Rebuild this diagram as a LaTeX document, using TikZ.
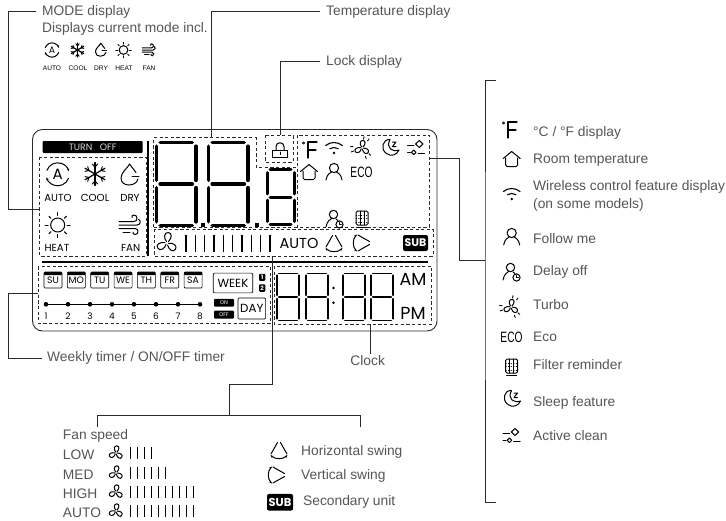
\documentclass[tikz,border=0pt]{standalone}
\usepackage{fontspec}
\setmainfont{Liberation Sans}
\newfontfamily\lcdfont{Poppins}
\usetikzlibrary{arrows.meta}
\usetikzlibrary{calc}

\definecolor{labelgray}{HTML}{555555}
\definecolor{linegray}{HTML}{2A2A2A}

\tikzset{
	leader/.style={draw=linegray, line width=0.8pt},
	dashbox/.style={draw=linegray, dashed, dash pattern=on 3.2pt off 2.4pt, line width=0.7pt},
	caption/.style={text=labelgray, font=\fontsize{13.8}{15}\selectfont, anchor=west, inner sep=0pt},
	lcdtext/.style={font=\lcdfont\fontsize{#1}{#1}\selectfont, inner sep=0pt},
	daybox/.style={draw=black, rounded corners=1pt, line width=0.6pt, minimum width=18pt, minimum height=16pt, inner sep=0pt, font=\lcdfont\fontsize{9.3}{9}\selectfont},
	subbox/.style={fill=black, text=white, rounded corners=2pt, inner sep=0pt, minimum width=25pt, minimum height=16pt, font=\lcdfont\bfseries\fontsize{11}{11}\selectfont},
	blackbox/.style={fill=black, text=white, rounded corners=1pt, inner sep=0pt},
	icon/.style={line width=1pt, line cap=round, line join=round},
	autoicon/.pic={
		\draw[icon, -{Stealth[length=3pt]}] (200:11.5) arc (200:345:11.5);
		\draw[icon, -{Stealth[length=3pt]}] (20:11.5) arc (20:165:11.5);
		\node[transform shape, font=\lcdfont\fontsize{15}{15}\selectfont, inner sep=0pt] (autoA) at (0,0) {A};
	},
	coolicon/.pic={
		\foreach \a in {30,90,150,210,270,330}{
			\draw[icon, line width=1.2pt] (0,0) -- (\a:11.5);
			\draw[icon] (\a:7) -- +(\a+42:4);
			\draw[icon] (\a:7) -- +(\a-42:4);
		}
	},
	dryicon/.pic={
		\draw[icon] (6,-2.5) -- (-0.5,-11) .. controls (-2,-7) and (-9,-3) .. (-9,3) .. controls (-9,8) and (-5,10) .. (-1,10) .. controls (3,10) and (7,8) .. (8,4);
		\draw[icon] (2,1.5) -- (9,1.5);
	},
	heaticon/.pic={
		\draw[icon] (0,0) circle (7);
		\foreach \a in {0,45,...,315}
			\draw[icon] (\a:9.5) -- (\a:12.5);
	},
	windicon/.pic={
		\draw[icon] (-11,-3.5) -- (4,-3.5) .. controls (8,-3.5) and (8,-10) .. (4,-10) .. controls (2,-10) and (1.5,-8.5) .. (2,-7.5);
		\draw[icon] (-11,0) -- (7,0) .. controls (11,0) and (11,-5.5) .. (8.5,-5.5);
		\draw[icon] (-11,3.5) -- (5,3.5) .. controls (9,3.5) and (9,9.5) .. (5,9.5) .. controls (3,9.5) and (2.5,8) .. (3,7);
		\draw[icon] (-7,7) -- (0,7);
	},
	degreeicon/.pic={
		\draw[icon, line width=0.6pt] (-8.5,-7) circle (1.1);
		\draw[icon, line width=1.3pt] (-4,8) -- (-4,-8) -- (5,-8);
		\draw[icon, line width=1.3pt] (-4,0) -- (4,0);
	},
	wifiicon/.pic={
		\draw[icon, line width=1.1pt] (0,7.5) ++(230:13) arc (230:310:13);
		\draw[icon, line width=1.1pt] (0,7.5) ++(238:8) arc (238:302:8);
		\fill (0,5) circle (1.4);
	},
	bladesicon/.pic={
		\foreach \a in {0,125,240}
			\draw[icon, rotate=\a] (-0.5,-1.5) .. controls (-3.5,-5) and (-3,-10.5) .. (1,-10.5) .. controls (5.5,-10.5) and (5,-5) .. (1.5,-1.5);
	},
	turboicon/.pic={
		\pic[scale=0.72] {bladesicon};
		\foreach \a in {40,68,160,188,280,308}
			\draw[icon, line width=0.9pt] (\a:9) -- (\a:11.5);
	},
	moonicon/.pic={
		\draw[icon] (0,-8.5) .. controls (-7.5,-9) and (-10,1) .. (-3.5,5.5) .. controls (1,9) and (7,7) .. (9,2) .. controls (2.5,4.5) and (-4.5,0) .. (0,-8.5);
		\draw[icon] (2.5,-6) -- (6,-6) -- (2.5,-1.5) -- (6,-1.5);
	},
	activeicon/.pic={
		\draw[icon] (3.3,-7.5) -- (7,-4) -- (3.3,-0.5) -- (-0.4,-4) -- cycle;
		\draw[icon] (-2.3,2) -- (0,4.3) -- (-2.3,6.6) -- (-4.6,4.3) -- cycle;
		\draw[icon] (-8.5,-2.3) -- (-2,-2.3);
		\draw[icon] (-8.5,4.5) -- (-5.5,4.5);
		\draw[icon] (2,5.7) -- (8.5,5.7);
	},
	houseicon/.pic={
		\draw[icon] (-8.5,-0.5) -- (0,-7.5) -- (8.5,-0.5);
		\draw[icon, rounded corners=1.5pt] (-6,-1) -- (-6,7.5) -- (6,7.5) -- (6,-1);
	},
	personicon/.pic={
		\draw[icon] (0,-4) circle (4.6);
		\draw[icon] (-8,8) .. controls (-7,2) and (-4,1) .. (-2.5,0);
		\draw[icon] (8,8) .. controls (7,2) and (4,1) .. (2.5,0);
	},
	delayicon/.pic={
		\draw[icon] (-1.5,-4.5) circle (4.2);
		\draw[icon] (-9,8) .. controls (-8,2) and (-5,1) .. (-3.5,-0.5);
		\draw[icon] (1,0) .. controls (2,0.5) and (2.5,1) .. (3,1.5);
		\draw[icon] (4.5,5.5) circle (3.6);
		\draw[icon, line width=0.6pt] (4.5,3.5) -- (4.5,5.5) -- (6.5,5.5);
	},
	ecoicon/.pic={
		\node[font=\fontsize{15}{15}\selectfont, inner sep=0pt, xscale=0.68] (ecotext) at (0,0) {ECO};
	},
	filtericon/.pic={
		\draw[icon, rounded corners=1.5pt] (-6,-8) rectangle (6,6);
		\draw[icon] (-5,8) -- (5,8);
		\foreach \x in {-2,2}
			\draw[icon, line width=0.6pt] (\x,-8) -- (\x,6);
		\foreach \y in {-4,-0.5,3}
			\draw[icon, line width=0.6pt, dotted] (-6,\y) -- (6,\y);
	},
	lockicon/.pic={
		\draw[icon] (-7.5,0) rectangle (7.5,7.5);
		\draw[icon] (-4,0) -- (-4,-3.5) .. controls (-4,-8.5) and (4,-8.5) .. (4,-3.5) -- (4,0);
		\draw[icon] (0,2) -- (0,4.5);
	},
	hswingicon/.pic={
		\draw[icon] (-1.5,-7.5) -- (-8,4);
		\draw[icon] (1.5,-7.5) -- (8,4);
		\draw[icon, {Stealth[length=3pt]}-{Stealth[length=3pt]}] (-8.5,5) .. controls (-4,9.5) and (4,9.5) .. (8.5,5);
	},
}

\newcommand{\segdigit}[5]{% left, top, width, height, weight
	\begin{scope}[line width=#5pt, line cap=round, black, shift={(#1,#2)}]
		\pgfmathsetmacro{\segw}{#3}
		\pgfmathsetmacro{\segh}{#4}
		\pgfmathsetmacro{\segm}{#4/2}
		\pgfmathsetmacro{\segg}{#5*1.0}
		\draw (\segg,0) -- (\segw-\segg,0);
		\draw (\segg,\segm) -- (\segw-\segg,\segm);
		\draw (\segg,\segh) -- (\segw-\segg,\segh);
		\draw (0,\segg) -- (0,\segm-\segg);
		\draw (\segw,\segg) -- (\segw,\segm-\segg);
		\draw (0,\segm+\segg) -- (0,\segh-\segg);
		\draw (\segw,\segm+\segg) -- (\segw,\segh-\segg);
	\end{scope}
}

\begin{document}
\begin{tikzpicture}[x=1pt, y=-1pt]
	\useasboundingbox (0,0) rectangle (726,520);

	% panel
	\draw[line width=0.9pt, linegray, rounded corners=10pt] (32.5,129.5) rectangle (437,331);

	\node[fill=black, rounded corners=1pt, minimum width=100pt, minimum height=12pt, inner sep=0pt, text=white!85!black, font=\lcdfont\fontsize{9.3}{9}\selectfont] (turnoff) at (92.7,147) {TURN\ \ \ OFF};
	\draw[line width=1.6pt] (148,141) -- (148,256);
	\draw[line width=1.6pt] (42,261.7) -- (428,261.7);

	% dashed zones
	\draw[dashbox] (39.5,157) rectangle (146,256);
	\draw[dashbox] (153.7,227) -- (153.7,137.7) -- (256,137.7) -- (256,167) -- (297,167);
	\draw[dashbox] (265,135) rectangle (293,162);
	\draw[dashbox] (297,135) rectangle (429,227);
	\draw[dashbox] (153.7,227) -- (297,227);
	\draw[dashbox] (154,229) rectangle (433,256);
	\draw[dashbox] (38,266.7) rectangle (270.7,323);
	\draw[dashbox] (274,266) rectangle (431.7,324);

	% mode zone
	\pic at (57.7,174.3) {autoicon};
	\pic at (95,174) {coolicon};
	\pic at (130,175) {dryicon};
	\pic at (57.7,225) {heaticon};
	\pic at (130,225) {windicon};
	\node[lcdtext=10.2] (autotxt) at (58,197.7) {AUTO};
	\node[lcdtext=10.2] (cooltxt) at (95,197.7) {COOL};
	\node[lcdtext=10.2] (drytxt) at (130,197.7) {DRY};
	\node[lcdtext=10.2] (heattxt) at (57,248) {HEAT};
	\node[lcdtext=10.2] (fantxt) at (130.6,248) {FAN};

	% big digits
	\segdigit{156.5}{142.5}{39.5}{83}{3.8}
	\segdigit{208.5}{142.5}{39.5}{83}{3.8}
	\segdigit{267}{169.5}{27}{55}{3}
	\fill (201,222.5) rectangle +(3.6,4.2);
	\fill (255,222.5) rectangle +(3.6,4.2);

	% feature zone
	\pic at (312,150) {degreeicon};
	\pic at (334,148) {wifiicon};
	\pic at (362,148) {turboicon};
	\pic at (390,148) {moonicon};
	\pic at (416,148) {activeicon};
	\pic at (309,172) {houseicon};
	\pic at (334,172) {personicon};
	\pic at (361.5,172.5) {ecoicon};
	\pic at (335,219) {delayicon};
	\pic at (362,219) {filtericon};
	\pic at (280,150) {lockicon};

	% fan strip
	\pic at (167,243) {bladesicon};
	\foreach \i in {0,...,9}
		\draw[line width=1.3pt] (186+\i*9.33,235) -- (186+\i*9.33,251.7);
	\node[lcdtext=14.5] (autostrip) at (299,243) {AUTO};
	\pic at (334,243) {hswingicon};
	\pic[rotate=-90] at (362,243) {hswingicon};
	\node[subbox] (substrip) at (415.5,243) {SUB};

	% week row
	\foreach \d/\n [count=\i from 0] in {SU/su,MO/mo,TU/tu,WE/we,TH/th,FR/fr,SA/sa}{
		\node[daybox] (\n) at (53+\i*23.35,280) {\d};
		\fill[rounded corners=1pt] (44+\i*23.35,272) rectangle +(18,3.2);
	}
	\node[daybox, minimum width=39.5pt, minimum height=19.7pt, font=\lcdfont\fontsize{11.8}{12}\selectfont] (week) at (233,283) {WEEK};
	\node[blackbox, minimum width=6.3pt, minimum height=7pt, font=\lcdfont\bfseries\fontsize{6}{6}\selectfont] (wkone) at (262.2,277.3) {1};
	\node[blackbox, minimum width=6.3pt, minimum height=7.5pt, font=\lcdfont\bfseries\fontsize{6}{6}\selectfont] (wktwo) at (262.2,288) {2};
	\node[blackbox, minimum width=20pt, minimum height=7.7pt, font=\lcdfont\fontsize{5.4}{5}\selectfont] (onbox) at (224,302.8) {ON};
	\node[blackbox, minimum width=20pt, minimum height=8pt, font=\lcdfont\fontsize{5.4}{5}\selectfont] (offbox) at (224,314.7) {OFF};
	\node[daybox, minimum width=27.7pt, minimum height=21pt, font=\lcdfont\fontsize{11.8}{12}\selectfont] (daytxt) at (251.8,308.5) {DAY};
	\draw[line width=1.2pt] (46,304.3) -- (200,304.3);
	\foreach \i in {1,...,8}{
		\fill ({46+(\i-1)*22},304.3) circle (2.3);
		\node[lcdtext=9] (t\i) at ({46+(\i-1)*22},316) {\i};
	}

	% clock
	\segdigit{277}{273.5}{22}{47}{1.9}
	\segdigit{306}{273.5}{22}{47}{1.9}
	\segdigit{343}{273.5}{22}{47}{1.9}
	\segdigit{371}{273.5}{22}{47}{1.9}
	\fill (333.5,288) circle (1.4);
	\fill (333.5,302.7) circle (1.4);
	\node[lcdtext=17.5] (am) at (413,279) {AM};
	\node[lcdtext=17.5] (pm) at (413,313) {PM};

	% connectors
	\coordinate (modeport) at (39.5,209);
	\coordinate (tempport) at (211,137.7);
	\coordinate (lockport) at (280,135);
	\coordinate (featport) at (429,158.5);
	\coordinate (weekport) at (38,293.5);
	\coordinate (clockport) at (370,324);
	\coordinate (fanport) at (272,256);
	\coordinate (fanbend) at (272,384.3);
	\coordinate (fanmid) at (229,384.3);
	\coordinate (fansplit) at (229,415.5);
	\coordinate (fanleft) at (97,427);
	\coordinate (fanright) at (360,427);
	\coordinate (brtop) at (496,80.5);
	\coordinate (brbot) at (496,502.5);
	\coordinate (brmid) at (485,260.7);

	\node[caption] (modelabel) at (42,12) {MODE display};
	\node[caption] (modesub) at (42,29) {Displays current mode incl.};
	\node[caption] (templabel) at (326,12) {Temperature display};
	\node[caption] (locklabel) at (326,62) {Lock display};
	\node[caption] (weeklabel) at (47,358) {Weekly timer / ON/OFF timer};
	\node[caption, anchor=center] (clocklabel) at (367.7,361) {Clock};

	\draw[leader] (modelabel.west) ++(-6,-0.5) -| (8,209) -- (modeport);
	\draw[leader] (templabel.west) ++(-6,-0.5) -| (tempport);
	\draw[leader] (locklabel.west) ++(-6,-1) -| (lockport);
	\draw[leader] (weekport) -| (8,358) -- ($(weeklabel.west)+(-5,0)$);
	\draw[leader] (clockport) -- ($(clocklabel.north -| clockport)+(0,-2)$);
	\draw[leader] (fanport) -- (fanbend) -- (fanmid) -- (fansplit);
	\draw[leader] (fanleft) |- (fansplit) -| (fanright);
	\draw[leader] (featport) -| (459,260.7) -- (brmid);
	\draw[leader] (brtop) -| (brmid) |- (brbot);

	% mode key
	\begin{scope}[every pic/.style={scale=0.62}]
		\pic at (52,50) {autoicon};
		\pic at (77.5,50) {coolicon};
		\pic at (101,50) {dryicon};
		\pic at (123.5,50) {heaticon};
		\pic at (149,50) {windicon};
	\end{scope}
	\foreach \t/\x/\n in {AUTO/52/ka,COOL/78/kc,DRY/101/kd,HEAT/124/kh,FAN/149/kf}
		\node[font=\fontsize{6.6}{7}\selectfont, inner sep=0pt] (\n) at (\x,68) {\t};

	% feature key
	\pic at (512,130) {degreeicon};
	\pic at (511.7,159) {houseicon};
	\pic at (511.7,194) {wifiicon};
	\pic at (511.7,237) {personicon};
	\pic at (512,272) {delayicon};
	\pic at (511,307) {turboicon};
	\pic at (511.5,337) {ecoicon};
	\pic at (511.7,367) {filtericon};
	\pic at (511.5,399) {moonicon};
	\pic at (511.7,436) {activeicon};
	\node[caption] (unitlabel) at (533,133) {°C / °F display};
	\node[caption] (roomlabel) at (533,160) {Room temperature};
	\node[caption] (wifilabel) at (533,187) {Wireless control feature display};
	\node[caption] (wifisub) at (533,205) {(on some models)};
	\node[caption] (followlabel) at (533,239) {Follow me};
	\node[caption] (delaylabel) at (533,272) {Delay off};
	\node[caption] (turbolabel) at (533,305) {Turbo};
	\node[caption] (ecolabel) at (533,337) {Eco};
	\node[caption] (filterlabel) at (533,365) {Filter reminder};
	\node[caption] (sleeplabel) at (533,403) {Sleep feature};
	\node[caption] (activelabel) at (533,436) {Active clean};

	% fan speed key
	\node[caption] (speedlabel) at (62.7,436) {Fan speed};
	\foreach \t/\y/\c/\n in {LOW/455/4/kl,MED/475/6/kmd,HIGH/494/10/kg,AUTO/513/10/kt}{
		\node[caption] (\n) at (62.7,\y) {\t};
		\pic[scale=0.68] at (116,\y-2) {bladesicon};
		\foreach \i in {1,...,\c}
			\draw[line width=1pt] ({130.7+(\i-1)*7},\y-8) -- ({130.7+(\i-1)*7},\y+4);
	}

	% swing key
	\pic at (279,450) {hswingicon};
	\pic[rotate=-90] at (277,475) {hswingicon};
	\node[subbox, minimum width=26pt, minimum height=16.7pt, font=\lcdfont\bfseries\fontsize{11.5}{11}\selectfont] (subkey) at (280,502.3) {SUB};
	\node[caption] (hlabel) at (301,452) {Horizontal swing};
	\node[caption] (vlabel) at (301,476) {Vertical swing};
	\node[caption] (slabel) at (303,502) {Secondary unit};
\end{tikzpicture}
\end{document}
